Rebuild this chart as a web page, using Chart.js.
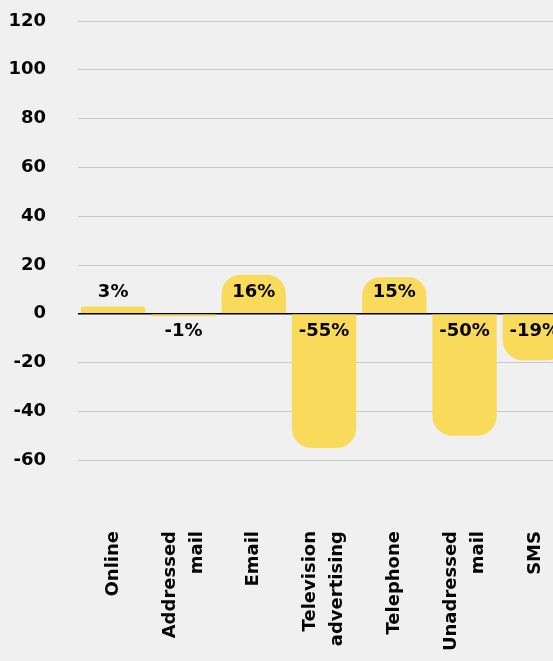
<!DOCTYPE html>
<html>
<head>
<meta charset="utf-8">
<script src="https://cdn.jsdelivr.net/npm/chart.js@4/dist/chart.umd.min.js"></script>
<style>
  html, body { margin: 0; padding: 0; background: #f0f0f0; overflow: hidden; }
  canvas { display: block; }
</style>
</head>
<body>
<canvas id="channels" width="570" height="700"></canvas>
<script>
// channel names (multi-line where the original wraps)
const channelLabels = [
  'Online',
  ['Addressed', 'mail'],
  'Email',
  ['Television', 'advertising'],
  'Telephone',
  ['Unadressed', 'mail'],
  'SMS'
];
const changePct = [3, -1, 16, -55, 15, -50, -19];
const yTicks = [120, 100, 80, 60, 40, 20, 0, -20, -40, -60];

const barYellow = '#f9da5b';
const inkBlack = '#050505';
const boldFont = 'bold 18px "DejaVu Sans", sans-serif';

Chart.defaults.font.family = '"DejaVu Sans", sans-serif';
Chart.defaults.font.weight = 'bold';
Chart.defaults.font.size = 18;
Chart.defaults.color = inkBlack;

// write the % value above positive bars / below the zero line for negative ones
const valueLabels = {
  id: 'valueLabels',
  afterDatasetsDraw(chart) {
    const ctx = chart.ctx;
    const zero = chart.scales.y.getPixelForValue(0);
    const meta = chart.getDatasetMeta(0);
    ctx.save();
    ctx.font = boldFont;
    ctx.fillStyle = inkBlack;
    ctx.textAlign = 'center';
    ctx.textBaseline = 'middle';
    meta.data.forEach(function(bar, i) {
      var v = changePct[i];
      var y = v >= 0 ? zero - 21 : zero + 18;
      ctx.fillText(v + '%', bar.x, y);
    });
    ctx.restore();
  }
};

// vertical category names, wrapped lines centred on the tick
// (chart.js puts the first line on the tick when rotated)
const verticalNames = {
  id: 'verticalNames',
  afterDraw(chart) {
    const ctx = chart.ctx;
    const xs = chart.scales.x;
    const top = chart.chartArea.bottom + 22;
    const lh = 27;
    ctx.save();
    ctx.font = boldFont;
    ctx.fillStyle = inkBlack;
    ctx.textAlign = 'right';
    ctx.textBaseline = 'middle';
    channelLabels.forEach(function(name, i) {
      var lines = Array.isArray(name) ? name : [name];
      var x = xs.getPixelForValue(i);
      ctx.save();
      ctx.translate(x, top);
      ctx.rotate(-Math.PI / 2);
      lines.forEach(function(line, k) {
        ctx.fillText(line, 0, (k - (lines.length - 1) / 2) * lh);
      });
      ctx.restore();
    });
    ctx.restore();
  }
};

new Chart(document.getElementById('channels'), {
  type: 'bar',
  data: {
    labels: channelLabels,
    datasets: [{
      data: changePct,
      backgroundColor: barYellow,
      borderRadius: 20,
      borderSkipped: 'start',
      barPercentage: 0.915,
      categoryPercentage: 1.0
    }]
  },
  options: {
    responsive: false,
    animation: false,
    layout: { padding: { top: 21, right: 0, bottom: 0, left: 0 } },
    plugins: {
      legend: { display: false },
      tooltip: { enabled: false }
    },
    scales: {
      x: {
        grid: { display: false, drawTicks: false },
        border: { display: false },
        ticks: { display: false },
        afterFit: function(scale) {
          scale.height = 191;
          scale.paddingLeft = 0;
          scale.paddingRight = 0;
        }
      },
      y: {
        min: -80,
        max: 120,
        afterBuildTicks: function(scale) {
          scale.ticks = yTicks.map(function(v) { return { value: v }; });
        },
        grid: {
          drawTicks: false,
          color: function(c) { return c.tick && c.tick.value === 0 ? '#000000' : '#c8c8c8'; },
          lineWidth: function(c) { return c.tick && c.tick.value === 0 ? 1.5 : 1; }
        },
        border: { display: false },
        ticks: {
          padding: 32,
          font: { size: 18, weight: 'bold' }
        },
        afterFit: function(scale) {
          scale.width = 78;
          scale.paddingTop = 0;
          scale.paddingBottom = 0;
        }
      }
    }
  },
  plugins: [valueLabels, verticalNames]
});
</script>
</body>
</html>
